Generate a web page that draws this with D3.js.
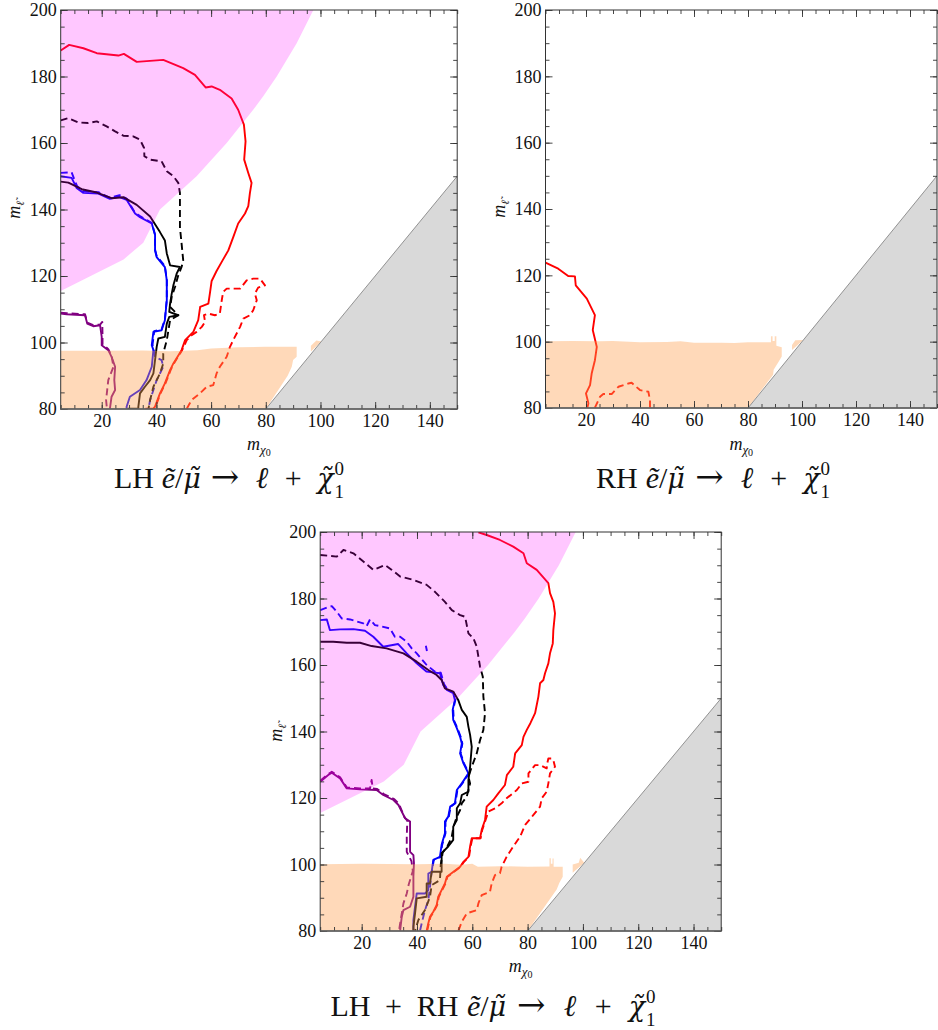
<!DOCTYPE html>
<html><head><meta charset="utf-8">
<script src="https://cdn.jsdelivr.net/npm/d3@7"></script>
<style>body{margin:0;background:#fff}svg{display:block}</style>
</head><body>
<svg id="c" width="938" height="1030"></svg>
<script>
// ---------- axes / ticks ----------
const xDomain = [5, 150];
const yDomain = [80, 200];
const xTickLabels = [20, 40, 60, 80, 100, 120, 140];
const yTickLabels = [80, 100, 120, 140, 160, 180, 200];
const minorStep = 5;

// ---------- shaded regions ----------
const pinkRegion = [[5,200],[97.4,200],[91.3,190],[84,180],[79,174],[75.4,170],[65.7,160],[54.7,150],[41.3,140],[35.2,130],[28,125],[5,115.5]];
const forbiddenRegion = [[80,80],[150,150],[150,80]];
const lhOrange = [[5,80],[5,97.5],[20,97.5],[35,97.6],[45,97.4],[55,97.7],[60,98.2],[70,98.6],[80,98.7],[91.3,98.7],[91.3,95.7],[90,94.7],[89.5,92.7],[88,90],[80,80]];
const lhOrangePatch = [[96.5,97.3],[100.3,100.3],[98.5,100.6],[96.5,99]];
const rhOrange = [[5,80],[5,100.1],[15,100.2],[25,100.1],[30,100.2],[40,99.8],[50,99.9],[55,100.1],[60,99.7],[70,99.7],[75,99.6],[80,99.8],[88.5,99.8],[88.5,101.6],[89.1,101.6],[89.1,100.2],[89.9,100.2],[89.9,101.6],[90.5,101.6],[90.5,98.8],[92.5,98.3],[92.5,95.5],[91,93.5],[89.5,91.5],[89.3,90],[80,80]];
const rhOrangePatch = [[96.3,97.5],[100.5,100.5],[97.5,100.4],[96.3,99]];
const bothOrange = [[5,80],[5,100.1],[20,100.2],[40,100.1],[50,100.2],[56,99.9],[60,100.2],[62,99.3],[70,99.5],[80,99.3],[87.9,99.4],[87.9,101.9],[88.4,101.9],[88.4,100.2],[89,100.2],[89,101.8],[89.4,101.8],[89.4,99.3],[92.7,99.3],[92.7,96.3],[91.5,94.5],[90.5,92.5],[80,80]];
const bothOrangePatch = [[96.3,97.5],[100.5,100.5],[99,102],[98.5,100.5],[96.3,100]];

// ---------- LH contours ----------
const lhRedSolid = [[5,187.8],[8.1,189.5],[13.3,188.5],[18.2,187],[26.1,186.3],[28.1,186.8],[32.8,184.4],[42.5,185],[49.8,182.5],[54.1,180.5],[58,176.7],[60.2,177],[63.2,176],[67.5,173.4],[69.9,170],[72,165.5],[72.6,160.5],[72.1,155],[73.6,151],[74.8,148],[74.2,145],[73.6,141],[72.4,138.8],[69.9,135.8],[68.1,131.7],[66.3,127.7],[64.2,124.7],[62,121.5],[60.2,118.5],[59.6,115],[59,111.7],[56,110.7],[55.3,106.7],[53.5,103.2],[50.5,100.7],[49.2,97.7],[46.2,93.7],[45,91.7],[43.1,87.7],[41.3,84.7],[39.5,80.7],[38.9,80.1],[36,80.1]];
const lhRedDashed = [[51.1,80.1],[52.9,82.7],[55.9,84.7],[58.4,86.7],[60.8,87.2],[62,90.7],[63.2,92.7],[65.7,95.7],[66.9,98.7],[68.7,101.7],[70.6,104.7],[71.8,107.2],[74.2,108.2],[75.4,109.7],[76.7,112.7],[76,114.7],[77.2,116.5],[79.7,117.2],[77.9,119.2],[75.4,119.2],[73,118.7],[70.6,116.2],[65.7,116.2],[64.4,115.2],[63.9,112.7],[63.2,108.7],[61.4,108.2],[59,108.7],[57.4,108.2],[57.8,106.2],[56.6,104.7],[54.7,103.2],[52.9,102.2],[51.1,100.7],[49.4,97.7],[46.4,93.7],[45.2,91.7],[43.3,87.7],[41.5,84.7],[39.7,80.7],[39.1,80.1]];
const lhBlackSolid = [[5,148.4],[7.8,148.1],[12.7,146.1],[18.2,145.1],[23.6,143.4],[27.9,143.7],[32.8,141.4],[37.7,137.9],[41.3,133.2],[43.1,130.7],[43.8,126.8],[45,123.2],[48.6,122.7],[47.4,120.7],[46.2,117.2],[45.6,114.7],[45,111.7],[44.7,109.2],[48,108.2],[44.7,107.7],[43.8,105.7],[43.1,101.7],[40.7,101.2],[40.1,98.7],[39.5,94.7],[38.9,90.7],[37.7,88.7],[35.8,86.7],[34,84.7],[33.4,80.7],[33.4,80.1],[29.5,80.1]];
const lhBlackDashed = [[5,166.8],[7.8,167.5],[11.4,166.2],[15.1,166],[18.2,166.5],[21.8,165],[24.9,163.5],[27.9,162.2],[31.5,162],[34,161],[35.5,158.5],[35.6,156],[37.7,155],[41.9,154.5],[43.8,151.5],[46.2,150],[48,148],[48.6,145],[48.6,141.8],[48.6,134.7],[49.2,129.8],[49.8,124.7],[49.2,122.7],[48,120.2],[46.8,116.7],[45.6,113.7],[45,110.7],[46.8,109.2],[48,108.2],[45,106.7],[43.8,100.7],[42.5,96.7],[42.5,93.7],[41.3,90.7],[38.9,86.7],[37.7,82.7],[37.1,80.1]];
const lhBlueSolid = [[5,150],[9,149.5],[10.8,146.5],[13.3,145],[18.8,144.8],[23,143.2],[26.1,143.9],[29.1,142.9],[32.2,138.8],[34,137.7],[38.3,135.8],[39.5,132.3],[39.5,127.7],[40.1,125.7],[43.1,122.7],[43.8,118.7],[43.8,112.7],[43.1,106.7],[41.9,103.7],[38.9,103.2],[38.3,99.2],[38.9,97.7],[38.3,92.7],[36.4,88.7],[34,85.7],[30.3,83.7],[29.1,80.7],[29.1,80.1]];
const lhBlueDashed = [[5,151],[9,151.2],[10,149],[11,147],[13.3,145.5],[18.8,145.2],[23,143.5],[26.5,144.3],[29.1,143.3],[32.2,139],[34,138],[38.3,136],[39.5,132.5],[39.5,128],[40.1,126],[43.1,123],[43.8,119],[43.8,113],[43.1,107],[41.9,104],[39.2,103.4],[38.6,99.4],[39.5,95.7],[41.9,94.7],[42.5,92.7],[40.1,88.7],[38.9,85.7],[37.7,82.7],[37.1,80.1]];
const lhPurpleSolid = [[5,108.7],[7.2,108.5],[13.9,108.2],[14.7,105.7],[16.9,104.9],[19.4,105.2],[20,101.7],[20,99.2],[22.4,97.7],[23.6,95.7],[24.9,92.7],[24.6,88.7],[24.9,85.7],[23.6,83.7],[23,80.1]];
const lhPurpleDashed = [[5,109],[7.2,108.8],[13.9,108.5],[14.7,106],[16.9,105.2],[19.4,105.4],[20.2,106.2],[20.3,102],[20.3,99.5],[22.4,98],[23.6,96],[24.3,92.7],[22.4,88.7],[22,85.7],[21.6,82.7],[21.9,80.1]];

// ---------- RH contours ----------
const rhRedSolid = [[5,123.8],[9.7,122],[13.4,119.8],[15.9,119.7],[16.2,117],[20.3,113],[23.3,108],[22.5,103.5],[24,98.4],[23.3,94.4],[22.1,90.4],[21.5,86.9],[20,84.4],[20.9,81.4],[20.5,80.1]];
const rhRedDashed = [[23.3,80.1],[25.2,83.4],[26.4,84.2],[29.5,84.2],[32,86.4],[35.7,87.4],[36.9,87.6],[40,85.4],[43.1,84.9],[43.7,82.4],[43.7,80.1]];

// ---------- LH + RH contours ----------
const bothRedSolid = [[62.2,199.9],[65.2,199.1],[70,197.6],[74.8,195.6],[78.5,193.6],[79.7,190.6],[83.3,188.6],[87.5,184.6],[88.1,181.6],[89.3,179],[89.9,175.5],[89.3,170.5],[89.1,166.5],[88.1,163.5],[87.5,160.5],[86.3,157.5],[85.7,155.5],[84.5,154.5],[83.9,150.5],[82.7,145.5],[81,142.5],[79.7,140.5],[78.5,138.4],[77.9,135.9],[75.5,133.4],[74.8,129.4],[72.5,126.9],[71.8,123.9],[69.4,121.4],[67.6,119.4],[65.2,117.4],[64.6,113.4],[63.4,110.4],[62.8,107.9],[59.8,107.9],[59.2,105.4],[58.6,102.3],[56.8,100.8],[55.6,99.3],[53.2,97.8],[50.8,96.3],[50.1,94.3],[48.9,92.3],[47.7,90.3],[47.1,87.8],[45.9,85.8],[44.7,84.3],[44.1,82.3],[43.5,80.1]];
const bothRedDashed = [[55,80.1],[56.2,82.8],[58,85.3],[61.6,86.3],[62.2,88.3],[63.4,90.8],[66.4,91.8],[67,94.3],[68.2,96.8],[70,97.4],[70.6,99.3],[72.4,102.3],[74.8,105.4],[77.3,108.4],[79.1,111.9],[82.1,114.9],[84.5,117.4],[85.1,119.9],[86.9,121.9],[87.5,124.4],[88.1,127.4],[89.9,129.4],[89.3,131.4],[88.7,131.9],[87.5,131.9],[87.1,130.4],[86.9,128.9],[84.5,129.9],[82.7,129.9],[80.3,127.4],[80.3,124.9],[77.9,124.4],[76.1,122.4],[72.4,119.9],[70.6,118.4],[68.2,116.9],[65.8,115.9],[65.2,114.4],[64.8,113.4],[63.6,110.4],[63,107.9],[60,107.9],[59.4,105.4],[58.8,102.3],[57,100.8],[55.8,99.3],[53.4,97.8],[51,96.3],[50.3,94.3],[49.1,92.3],[47.9,90.3],[47.3,87.8],[46.1,85.8],[44.9,84.3],[44.3,82.3],[43.7,80.1]];
const bothBlackSolid = [[5,167],[9.7,167],[14.6,166.7],[19.4,166.7],[23.6,165.7],[29,165],[35.1,163.5],[39.9,161],[44.1,158.5],[47.1,157],[48.9,155.5],[50.1,153],[53.1,152],[54.9,149.5],[56.2,146.5],[58,144.4],[58.6,141.4],[59.2,139],[59.8,135.4],[59.2,129.4],[58.6,125.4],[58.6,121.9],[56.2,120.9],[55.6,118.4],[54.4,116.9],[54.4,113.4],[53.1,111.4],[53.1,107.4],[51.3,105.4],[48.9,103.4],[48.9,100.4],[48.9,97.8],[45.3,97.8],[44.7,94.3],[43.5,94.3],[43.5,90.3],[39.9,89.8],[39.3,85.3],[38.7,81.3],[38.7,80.1]];
const bothBlackDashed = [[5,193.1],[11,192.6],[13.4,194.6],[17,193.6],[20.6,191.1],[24.2,188.6],[28.4,190.1],[30.9,188.6],[33.9,186.6],[38.7,185.6],[43.5,184.1],[46.5,182],[50.1,179],[52.6,176.5],[55.6,175],[57.4,174.5],[58.6,169.5],[60.4,168],[61.6,165.5],[62.8,159.5],[63.8,156.5],[64,150.5],[64.6,145.5],[64,140.5],[62.8,137.4],[61.6,133.4],[59.8,129.4],[58.6,126.4],[59.2,124.4],[58,120.4],[56.2,118.4],[55.6,116.4],[54.4,114.4],[53.2,111.4],[52.5,108],[51,105.5],[49.3,103.6],[48.6,100],[48.3,95.3],[45.3,93.8],[44.7,90.3],[42.9,86.3],[40.5,83.3],[39.3,80.1]];
const bothBlueSolid = [[5,173.5],[7.4,173.7],[8.5,170.5],[12.2,170.7],[17,170.8],[21.2,170.3],[24.2,168.5],[27.8,165.5],[33.2,166.3],[36.3,163.5],[39.9,160.5],[43.5,158],[48.3,157.5],[49.5,154],[50.8,152.5],[53.1,151.5],[53.7,149.5],[52.9,146.5],[53.1,143.5],[54.4,141],[55.6,138.4],[56.2,136.4],[55.6,133.4],[56.8,130.4],[58.6,127.4],[57.4,125.9],[56.2,124.4],[54.4,122.4],[53.7,118.4],[52,117.4],[51.3,114.4],[50.1,112.9],[50.1,109.4],[48.9,105.9],[48.3,102.3],[45.9,101.4],[45.3,97.8],[44.1,97.3],[44.1,92.3],[42.9,91.3],[39.9,91.3],[39.3,87.3],[38.7,83.3],[38.7,80.1]];
const bothBlueDashed = [[5,176.5],[7.4,177.3],[9.2,177.7],[11,176],[12.8,174],[15.8,173.7],[20.6,172.5],[21.8,171.7],[23,173.7],[24.8,172],[26.6,171.7],[30.2,171],[32,168.5],[33.9,168.5],[36.3,167],[38.1,165],[39.9,163.5],[43.5,160],[46.5,158],[48.6,157.7],[49.8,154.2],[51,152.7],[53.3,151.7],[53.9,149.7],[53.1,146.5],[53.3,143.5],[54.6,141],[55.8,138.4],[56.4,136.4],[55.8,133.4],[57,130.4],[58.8,127.4],[57.6,125.9],[56.4,124.4],[54.6,122.4],[53.9,118.4],[52.2,117.4],[51.5,114.4],[50.3,112.9],[50.3,109.4],[49.1,105.9],[48.5,102.3],[46.1,101.4],[45.3,97.8],[44.7,93.3],[44.1,89.3],[42.9,86.3],[41.7,82.3],[41.1,80.1]];
const bothBlueIsland = [[43.2,165.8],[43.6,164.2]];
const bothPurpleSolid = [[5,124.9],[7.9,126.9],[9.2,127.6],[12.2,125.9],[14.6,122.9],[19.4,122.6],[25.4,122.4],[27.8,120.9],[31.5,119.4],[33.3,117.9],[35.7,113.9],[37.5,112.9],[37.5,108.4],[37.5,103.8],[38.7,102.8],[38.9,100.4],[38.7,96.3],[38.7,90.3],[37.5,87.3],[35.1,86.3],[34.5,84.3],[33.9,80.1]];
const bothPurpleDashed = [[5,125.2],[7.9,127.2],[9.2,127.9],[12.2,126.2],[14.6,123.2],[19.4,122.9],[23,122.9],[23.6,125.4],[24,122.9],[25.6,122.7],[28,121.2],[31.7,119.7],[33.5,118.2],[35.5,114.2],[36.5,113.2],[36.3,108.4],[36.3,103.8],[38,101],[38.5,98],[37,94],[36.3,91.3],[35.1,88.3],[34.3,84.3],[33.5,80.1]];

// ---------- titles ----------
const processTokens = [
  {t:'\u1EBD', it:true, gap:0.35},
  {t:'/', gap:0},
  {t:'μ\u0303', it:true, dv:true, gap:0},
  {t:'→', arrow:true, gap:0.45},
  {t:'ℓ', it:true, gap:0.75},
  {t:'+', gap:0.75},
  {t:'χ\u0303', it:true, dv:true, gap:0.7}
];

const RED = '#ff0000', BLUE = '#0000ff', BLACK = '#000000', PURPLE = '#800080';

const panels = [
  { id:'lh', left:60.7, top:10, width:396.5, height:399, prefix:['LH'],
    titleCx:229, titleW:230, titleY:488, ylabX:20, ylabY:210, xlabY:450,
    pink:true, orange:[lhOrange, lhOrangePatch],
    lines:[
      [lhPurpleSolid, PURPLE, false],[lhPurpleDashed, PURPLE, true],
      [lhRedSolid, RED, false],[lhRedDashed, RED, true],
      [lhBlueSolid, BLUE, false],[lhBlueDashed, BLUE, true],
      [lhBlackSolid, BLACK, false],[lhBlackDashed, BLACK, true]
    ]},
  { id:'rh', left:545.5, top:10, width:391.5, height:398, prefix:['RH'],
    titleCx:713, titleW:234, titleY:488, ylabX:505, ylabY:209, xlabY:450,
    pink:false, orange:[rhOrange, rhOrangePatch],
    lines:[[rhRedSolid, RED, false],[rhRedDashed, RED, true]]},
  { id:'both', left:320.2, top:532, width:401, height:399, prefix:['LH','+','RH'],
    titleCx:493, titleW:325, titleY:1016, ylabX:282, ylabY:733, xlabY:972,
    pink:true, orange:[bothOrange, bothOrangePatch],
    lines:[
      [bothPurpleSolid, PURPLE, false],[bothPurpleDashed, PURPLE, true],
      [bothRedSolid, RED, false],[bothRedDashed, RED, true],
      [bothBlueSolid, BLUE, false],[bothBlueDashed, BLUE, true],[bothBlueIsland, BLUE, false],
      [bothBlackSolid, BLACK, false],[bothBlackDashed, BLACK, true]
    ]}
];

const svg = d3.select('#c');
const SERIF = '"Liberation Serif","DejaVu Serif",serif';
const DV = '"DejaVu Serif",serif';
const defs = svg.append('defs');
const minorTicks = d3.range(xDomain[0], xDomain[1] + 0.1, minorStep);
const minorTicksY = d3.range(yDomain[0], yDomain[1] + 0.1, minorStep);

function buildTitle(g, p) {
  const fs = 30;
  const t = g.append('text').attr('x', 0).attr('y', p.titleY)
    .attr('font-family', SERIF).attr('font-size', fs).attr('fill', '#111');
  const parts = [];
  p.prefix.forEach((w, i) => parts.push({t:w, gap: i === 0 ? 0 : 0.6}));
  processTokens.forEach(d => parts.push(Object.assign({}, d)));
  parts.forEach(pt => {
    const ts = t.append('tspan').text(pt.t);
    if (pt.it) ts.attr('font-style', 'italic');
    if (pt.dv) ts.attr('font-family', DV).attr('font-size', 27);
    if (pt.arrow) ts.attr('font-family', DV).attr('font-size', 34);
    pt.node = ts;
  });
  t.append('tspan').attr('font-size', 19).attr('dy', -13).attr('dx', 1).text('0');
  t.append('tspan').attr('font-size', 19).attr('dy', 23).attr('dx', -9.5).text('1');
  const w0 = t.node().getBBox().width;
  const sumW = d3.sum(parts, d => d.gap);
  const k = Math.max(2, (p.titleW - w0) / sumW);
  parts.forEach(pt => { if (pt.gap) pt.node.attr('dx', pt.gap * k); });
  const bb = t.node().getBBox();
  t.attr('x', p.titleCx - bb.width / 2 - bb.x);
}

panels.forEach(p => {
  const x = d3.scaleLinear().domain(xDomain).range([p.left, p.left + p.width]);
  const y = d3.scaleLinear().domain(yDomain).range([p.top + p.height, p.top]);
  const line = d3.line().x(d => x(d[0])).y(d => y(d[1]));
  defs.append('clipPath').attr('id', 'clip-' + p.id).append('rect')
    .attr('x', p.left).attr('y', p.top).attr('width', p.width).attr('height', p.height);
  const g = svg.append('g');
  const plot = g.append('g').attr('clip-path', `url(#clip-${p.id})`);

  p.lines.forEach(([data, color, dashed]) => {
    plot.append('path').attr('d', line(data)).attr('fill', 'none')
      .attr('stroke', color).attr('stroke-width', 1.9)
      .attr('stroke-linejoin', 'round').attr('stroke-linecap', 'butt')
      .attr('stroke-dasharray', dashed ? '7,4' : null);
  });
  if (p.pink) {
    plot.append('path').attr('d', line(pinkRegion) + 'Z')
      .attr('fill', '#ff00ff').attr('fill-opacity', 0.22);
  }
  p.orange.forEach(poly => {
    plot.append('path').attr('d', line(poly) + 'Z')
      .attr('fill', 'rgb(255,160,80)').attr('fill-opacity', 0.4);
  });
  plot.append('path').attr('d', line(forbiddenRegion) + 'Z').attr('fill', '#d9d9d9');
  plot.append('path').attr('d', line(forbiddenRegion.slice(0, 2)))
    .attr('stroke', '#888').attr('stroke-width', 0.9).attr('fill', 'none');

  const style = sel => {
    sel.select('.domain').remove();
    sel.selectAll('line').attr('stroke', '#333').attr('stroke-width', 0.9);
    sel.selectAll('text').attr('font-family', SERIF).attr('font-size', 18).attr('fill', '#111');
  };
  const bottomY = p.top + p.height, rightX = p.left + p.width;
  g.append('g').attr('transform', `translate(0,${bottomY})`)
    .call(d3.axisBottom(x).tickValues(minorTicks).tickSize(-4).tickFormat('')).call(style);
  g.append('g').attr('transform', `translate(0,${bottomY})`)
    .call(d3.axisBottom(x).tickValues(xTickLabels).tickSize(-7).tickPadding(5).tickFormat(d3.format('d'))).call(style);
  g.append('g').attr('transform', `translate(0,${p.top})`)
    .call(d3.axisTop(x).tickValues(minorTicks).tickSize(-4).tickFormat('')).call(style);
  g.append('g').attr('transform', `translate(0,${p.top})`)
    .call(d3.axisTop(x).tickValues(xTickLabels).tickSize(-7).tickFormat('')).call(style);
  g.append('g').attr('transform', `translate(${p.left},0)`)
    .call(d3.axisLeft(y).tickValues(minorTicksY).tickSize(-4).tickFormat('')).call(style);
  g.append('g').attr('transform', `translate(${p.left},0)`)
    .call(d3.axisLeft(y).tickValues(yTickLabels).tickSize(-7).tickPadding(4).tickFormat(d3.format('d'))).call(style);
  g.append('g').attr('transform', `translate(${rightX},0)`)
    .call(d3.axisRight(y).tickValues(minorTicksY).tickSize(-4).tickFormat('')).call(style);
  g.append('g').attr('transform', `translate(${rightX},0)`)
    .call(d3.axisRight(y).tickValues(yTickLabels).tickSize(-7).tickFormat('')).call(style);

  g.append('rect').attr('x', p.left).attr('y', p.top).attr('width', p.width).attr('height', p.height)
    .attr('fill', 'none').attr('stroke', '#333').attr('stroke-width', 1);
  g.append('line').attr('x1', p.left).attr('x2', rightX).attr('y1', bottomY).attr('y2', bottomY)
    .attr('stroke', '#666').attr('stroke-width', 1.6);

  // y label  m_{l~}
  const yl = g.append('text').attr('transform', `translate(${p.ylabX},${p.ylabY}) rotate(-90)`)
    .attr('text-anchor', 'middle').attr('font-family', SERIF).attr('fill', '#111');
  yl.append('tspan').attr('font-style', 'italic').attr('font-size', 18).text('m');
  yl.append('tspan').attr('font-style', 'italic').attr('font-family', DV).attr('font-size', 11)
    .attr('dy', 4).text('ℓ\u0303');

  // x label  m_{chi_0}
  const xl = g.append('text').attr('x', (p.left + rightX) / 2).attr('y', p.xlabY)
    .attr('text-anchor', 'middle').attr('font-family', SERIF).attr('fill', '#111');
  xl.append('tspan').attr('font-style', 'italic').attr('font-size', 18).text('m');
  xl.append('tspan').attr('font-style', 'italic').attr('font-size', 13).attr('dy', 4).text('χ');
  xl.append('tspan').attr('font-size', 10).attr('dy', 2).text('0');

  buildTitle(g, p);
});
</script>
</body></html>
